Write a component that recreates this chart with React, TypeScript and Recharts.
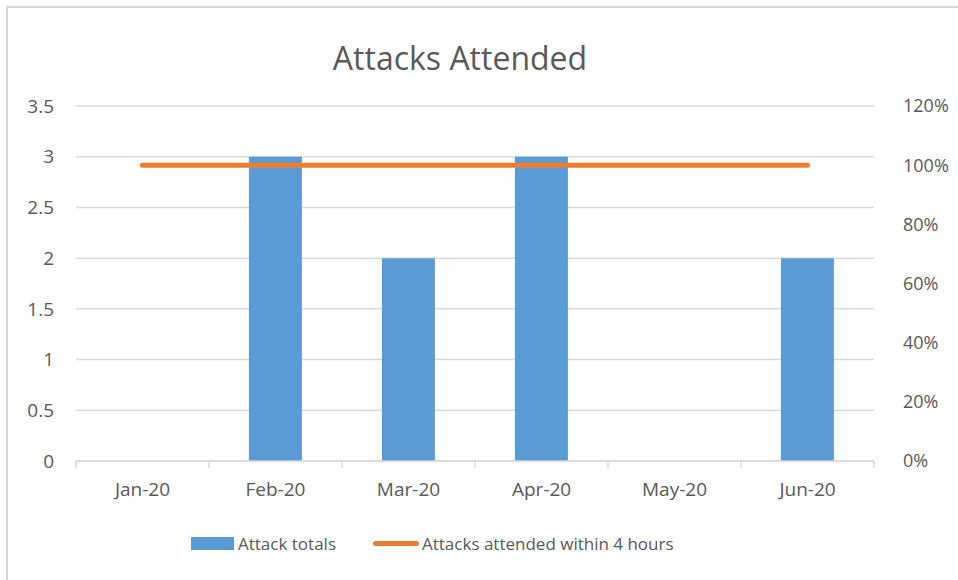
import React from 'react'
import { ComposedChart, Bar, Line, XAxis, YAxis, CartesianGrid, Legend } from 'recharts'

const months = ['Jan-20', 'Feb-20', 'Mar-20', 'Apr-20', 'May-20', 'Jun-20']
const attackTotals = [0, 3, 2, 3, 0, 2]
const attendedWithin4h = [1, 1, 1, 1, 1, 1]
const leftTicks = [0, 0.5, 1, 1.5, 2, 2.5, 3, 3.5]
const rightTicks = [0, 0.2, 0.4, 0.6, 0.8, 1, 1.2]

const data = months.map((m, i) => ({
  month: m,
  totals: attackTotals[i],
  within4h: attendedWithin4h[i],
}))

const FONT = '"Open Sans", "Liberation Sans", sans-serif'
const TEXT = '#595959'
const GRID = '#d9d9d9'
const BLUE = '#5b9bd5'
const ORANGE = '#ed7d31'
const X_TICK_MARGIN = 22

// category label plus Excel-style boundary tick marks
function MonthTick(props: any) {
  const { x, y, payload, index, width, visibleTicksCount } = props
  const count = visibleTicksCount || months.length
  const band = (width || 798) / count
  const axisY = y - X_TICK_MARGIN
  return (
    <g>
      <line x1={x - band / 2} x2={x - band / 2} y1={axisY} y2={axisY + 7} stroke={GRID} strokeWidth={1.5} />
      {index === count - 1 && (
        <line x1={x + band / 2} x2={x + band / 2} y1={axisY} y2={axisY + 7} stroke={GRID} strokeWidth={1.5} />
      )}
      <text x={x} y={y} dy="0.71em" textAnchor="middle" fill={TEXT} fontSize={19} fontFamily={FONT}>
        {payload.value}
      </text>
    </g>
  )
}

function ChartLegend() {
  return (
    <div style={{ display: 'flex', alignItems: 'center', paddingLeft: 191, fontFamily: FONT, fontSize: 17, color: TEXT }}>
      <span style={{ display: 'inline-block', width: 43, height: 13, background: BLUE, marginRight: 4 }} />
      <span style={{ marginRight: 37 }}>Attack totals</span>
      <span style={{ display: 'inline-block', width: 46, height: 5, borderRadius: 3, background: ORANGE, marginRight: 3 }} />
      <span>Attacks attended within 4 hours</span>
    </div>
  )
}

export default function App() {
  return (
    <div style={{ position: 'absolute', left: 0, top: 0, width: 958, height: 580, background: '#fff', overflow: 'hidden' }}>
      <div style={{ position: 'absolute', left: 6, top: 6, width: 960, height: 600, border: `2px solid ${GRID}` }} />
      <div style={{ position: 'absolute', left: 0, top: 36, width: 920, textAlign: 'center', fontFamily: FONT, fontSize: 32, color: TEXT }}>
        Attacks Attended
      </div>
      <div style={{ position: 'absolute', left: 0, top: 0 }}>
        <ComposedChart
          width={958}
          height={580}
          data={data}
          margin={{ top: 106, right: 0, bottom: 39, left: 0 }}
          barCategoryGap="30%"
        >
          <CartesianGrid vertical={false} stroke={GRID} strokeWidth={1.5} />
          <XAxis
            dataKey="month"
            height={40}
            stroke={GRID}
            strokeWidth={1.5}
            tickLine={false}
            tickSize={0}
            tickMargin={X_TICK_MARGIN}
            tick={<MonthTick />}
            interval={0}
          />
          <YAxis
            width={76}
            domain={[0, 3.5]}
            ticks={leftTicks}
            axisLine={false}
            tickLine={false}
            tickMargin={16}
            tick={{ fill: TEXT, fontSize: 19, fontFamily: FONT }}
          />
          <YAxis
            yAxisId="right"
            orientation="right"
            width={84}
            domain={[0, 1.2]}
            ticks={rightTicks}
            axisLine={false}
            tickLine={false}
            tickMargin={23}
            tickFormatter={(v: number) => `${Math.round(v * 100)}%`}
            tick={{ fill: TEXT, fontSize: 18, fontFamily: FONT, textAnchor: 'start' }}
          />
          <Legend
            verticalAlign="bottom"
            height={40}
            content={<ChartLegend />}
            wrapperStyle={{ top: 532, left: 0, width: 958 }}
          />
          <Bar dataKey="totals" name="Attack totals" fill={BLUE} isAnimationActive={false} />
          <Line
            yAxisId="right"
            dataKey="within4h"
            name="Attacks attended within 4 hours"
            stroke={ORANGE}
            strokeWidth={5}
            strokeLinecap="round"
            dot={false}
            activeDot={false}
            isAnimationActive={false}
          />
        </ComposedChart>
      </div>
    </div>
  )
}
